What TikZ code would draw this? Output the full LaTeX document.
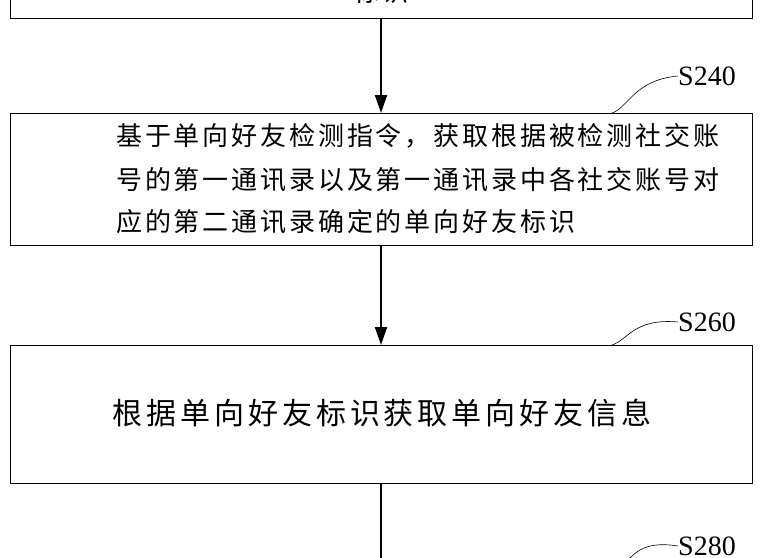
\documentclass[tikz,border=0pt]{standalone}
\usepackage{fontspec}
\setmainfont{Liberation Serif}
\newfontfamily\cjkA[LetterSpace=11]{Noto Sans CJK SC}
\newfontfamily\cjkB[LetterSpace=13]{Noto Sans CJK SC}
\usetikzlibrary{arrows.meta}
\tikzset{
  boxstyle/.style={draw, line width=1pt},
  flow/.style={line width=2pt, -{Triangle[length=18pt,width=12pt]}},
  lead/.style={line width=0.6pt},
  steplabel/.style={font=\fontsize{28}{28}\selectfont, anchor=west, inner sep=0pt},
  lineA/.style={font=\cjkA\fontsize{26}{26}\selectfont, anchor=west, inner sep=0pt},
}
\begin{document}
\begin{tikzpicture}[x=1pt,y=-1pt]
\useasboundingbox (0,0) rectangle (760,557);
\fill[white] (0,0) rectangle (760,557);
% top box (cut)
\draw[boxstyle] (10,-60) rectangle (752,18);
\node (t0) at (381,-8) {\cjkA\fontsize{26}{26}\selectfont 标识};
\coordinate (b0) at (381,18);
% box 2
\draw[boxstyle] (10,113) rectangle (752,245);
\coordinate (t2) at (381,113);
\coordinate (b2) at (381,245);
\node[lineA] (l1) at (116,136) {基于单向好友检测指令，获取根据被检测社交账};
\node[lineA] (l2) at (116,180) {号的第一通讯录以及第一通讯录中各社交账号对};
\node[lineA] (l3) at (116,222) {应的第二通讯录确定的单向好友标识};
% box 3
\draw[boxstyle] (10,345) rectangle (752,483);
\coordinate (t3) at (381,345);
\coordinate (b3) at (381,483);
\node[font=\cjkB\fontsize{30}{30}\selectfont, inner sep=0pt] (l4) at (382,413) {根据单向好友标识获取单向好友信息};
\coordinate (t4) at (381,580);
% arrows
\draw[flow] (b0) -- (t2);
\draw[flow] (b2) -- (t3);
\draw[flow] (b3) -- (t4);
% step labels
\node[steplabel] (s240) at (678,76) {S240};
\node[steplabel] (s260) at (678,322) {S260};
\node[steplabel] (s280) at (678,546) {S280};
\draw[lead] (612,113) .. controls (628,108) and (634,80) .. (s240.west);
\draw[lead] (612,345) .. controls (628,340) and (634,318) .. (s260.west);
\draw[lead] (622,565) .. controls (634,556) and (640,540) .. (s280.west);
\end{tikzpicture}
\end{document}
